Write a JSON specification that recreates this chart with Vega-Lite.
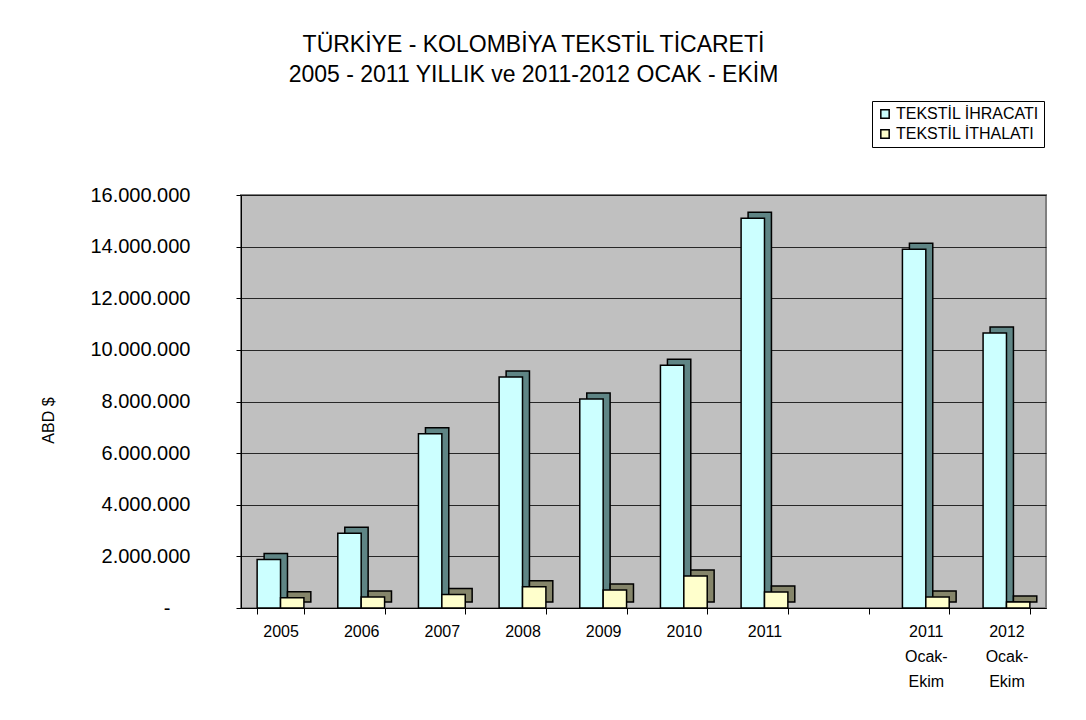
{
  "$schema": "https://vega.github.io/schema/vega-lite/v6.json",
  "width": 805,
  "height": 413,
  "autosize": {"type": "none"},
  "padding": {"left": 241, "top": 195, "right": 40, "bottom": 112},
  "background": "white",
  "config": {
    "font": "Liberation Sans",
    "locale": {"number": {"decimal": ",", "thousands": ".", "grouping": [3], "currency": ["", ""]}},
    "view": {"fill": "#C0C0C0", "stroke": "#808080", "strokeWidth": 2}
  },
  "title": {
    "text": ["TÜRKİYE - KOLOMBİYA TEKSTİL TİCARETİ", "2005 - 2011 YILLIK ve 2011-2012 OCAK - EKİM"],
    "fontSize": 23,
    "fontWeight": "normal",
    "color": "black",
    "lineHeight": 30,
    "anchor": "middle",
    "frame": "group",
    "dx": -110,
    "offset": 14
  },
  "data": {
    "values": [
      {"cat": "2005", "series": "TEKSTİL İHRACATI", "value": 1880000},
      {"cat": "2005", "series": "TEKSTİL İTHALATI", "value": 400000},
      {"cat": "2006", "series": "TEKSTİL İHRACATI", "value": 2900000},
      {"cat": "2006", "series": "TEKSTİL İTHALATI", "value": 430000},
      {"cat": "2007", "series": "TEKSTİL İHRACATI", "value": 6750000},
      {"cat": "2007", "series": "TEKSTİL İTHALATI", "value": 520000},
      {"cat": "2008", "series": "TEKSTİL İHRACATI", "value": 8950000},
      {"cat": "2008", "series": "TEKSTİL İTHALATI", "value": 820000},
      {"cat": "2009", "series": "TEKSTİL İHRACATI", "value": 8100000},
      {"cat": "2009", "series": "TEKSTİL İTHALATI", "value": 700000},
      {"cat": "2010", "series": "TEKSTİL İHRACATI", "value": 9400000},
      {"cat": "2010", "series": "TEKSTİL İTHALATI", "value": 1240000},
      {"cat": "2011", "series": "TEKSTİL İHRACATI", "value": 15100000},
      {"cat": "2011", "series": "TEKSTİL İTHALATI", "value": 620000},
      {"cat": "2011|Ocak-|Ekim", "series": "TEKSTİL İHRACATI", "value": 13900000},
      {"cat": "2011|Ocak-|Ekim", "series": "TEKSTİL İTHALATI", "value": 430000},
      {"cat": "2012|Ocak-|Ekim", "series": "TEKSTİL İHRACATI", "value": 10650000},
      {"cat": "2012|Ocak-|Ekim", "series": "TEKSTİL İTHALATI", "value": 230000}
    ]
  },
  "encoding": {
    "x": {
      "field": "cat",
      "type": "nominal",
      "scale": {
        "domain": ["2005", "2006", "2007", "2008", "2009", "2010", "2011", " ", "2011|Ocak-|Ekim", "2012|Ocak-|Ekim"],
        "paddingInner": 0.42,
        "paddingOuter": 0.2
      },
      "axis": {
        "title": null,
        "labelAngle": 0,
        "labelFontSize": 16,
        "labelColor": "black",
        "labelLineHeight": 25,
        "labelPadding": 9,
        "labelExpr": "split(datum.label, '|')",
        "domainColor": "black",
        "tickColor": "black",
        "tickBand": "extent",
        "tickSize": 6
      }
    },
    "y": {
      "field": "value",
      "type": "quantitative",
      "scale": {"domain": [0, 16000000], "nice": false},
      "axis": {
        "title": "ABD $",
        "titleFontSize": 16,
        "titleFontWeight": "normal",
        "titleColor": "black",
        "titleX": -193,
        "titleY": 225,
        "titleAlign": "center",
        "titleBaseline": "middle",
        "values": [0, 2000000, 4000000, 6000000, 8000000, 10000000, 12000000, 14000000, 16000000],
        "format": ",d",
        "labelExpr": "datum.value == 0 ? '-' : datum.label",
        "labelFontSize": 20,
        "labelColor": "black",
        "labelPadding": {"condition": {"test": "datum.value == 0", "value": 66}, "value": 46},
        "tickSize": 5,
        "tickColor": "black",
        "domainColor": "black",
        "gridColor": "black",
        "gridOpacity": 0.8
      }
    }
  },
  "layer": [
    {
      "mark": {"type": "bar", "stroke": "black", "strokeWidth": 1.5, "yOffset": -6, "y2Offset": -6},
      "encoding": {
        "xOffset": {"field": "series", "type": "nominal", "scale": {"paddingInner": 0, "range": [7, 53.7]}},
        "fill": {
          "condition": {"test": "datum.series == 'TEKSTİL İHRACATI'", "value": "#5F8585"},
          "value": "#85856A"
        }
      }
    },
    {
      "mark": {"type": "bar", "stroke": "black", "strokeWidth": 1.5},
      "encoding": {
        "xOffset": {"field": "series", "type": "nominal", "scale": {"paddingInner": 0}},
        "fill": {
          "field": "series",
          "type": "nominal",
          "scale": {"domain": ["TEKSTİL İHRACATI", "TEKSTİL İTHALATI"], "range": ["#CCFFFF", "#FFFFCC"]},
          "legend": {
            "title": null,
            "orient": "none",
            "legendX": 631,
            "legendY": -94,
            "symbolType": "square",
            "symbolSize": 70,
            "symbolStrokeColor": "black",
            "symbolStrokeWidth": 1.5,
            "labelFontSize": 16,
            "labelColor": "black",
            "strokeColor": "black",
            "fillColor": "white",
            "padding": 5,
            "rowPadding": 4,
            "labelOffset": 3,
            "labelLimit": 300
          }
        }
      }
    }
  ],
  "resolve": {"scale": {"xOffset": "independent"}}
}
